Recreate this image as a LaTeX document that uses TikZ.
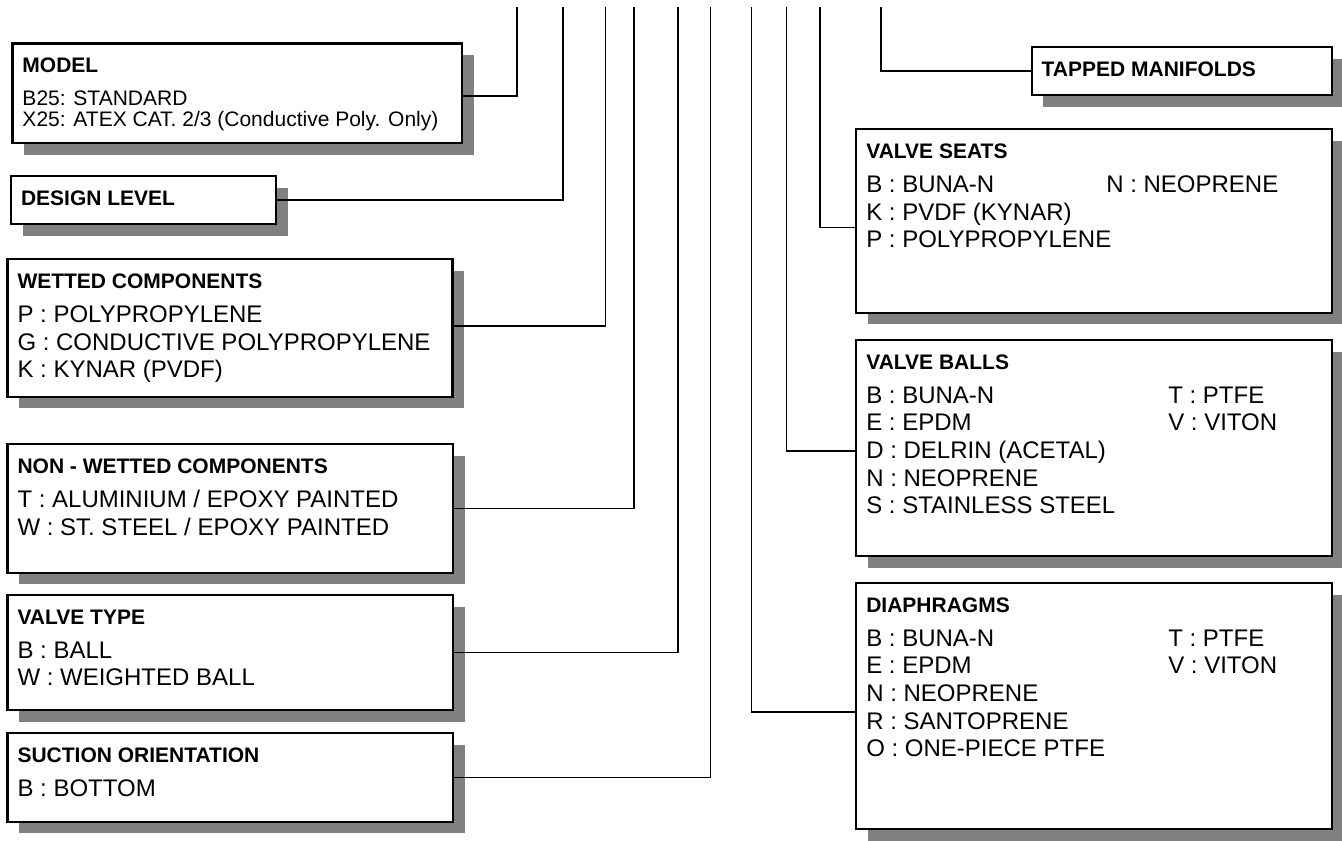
\documentclass[tikz,border=0pt]{standalone}
\usepackage{fontspec}
\setmainfont{Liberation Sans}
\usetikzlibrary{shadows}

\definecolor{shadowgray}{HTML}{808080}

\newcommand{\entryfont}{\fontsize{24}{27.7}\selectfont}
\newcommand{\boxtitle}[1]{\rule{0pt}{29pt}{\bfseries\fontsize{21}{27.7}\selectfont #1}}
\newcommand{\twocol}[3]{\makebox[#1][l]{#2}#3}

\begin{document}
\begin{tikzpicture}[
    x=1pt, y=-1pt,
    box/.style={draw, line width=2.1pt, fill=white, anchor=north west,
        outer sep=0pt, inner xsep=10pt, inner ysep=0pt,
        drop shadow={shadow xshift=11.5pt, shadow yshift=-11.5pt,
            fill=shadowgray, opacity=1}},
    link/.style={line width=1.6pt}
]
\useasboundingbox (0,0) rectangle (1342,841);

% Left column
\node[box] (model) at (12.5,43.5) {\parbox[t][99.8pt][t]{429.5pt}{%
    \fontsize{21}{21}\selectfont\boxtitle{MODEL}\\[12.3pt]
    B25: STANDARD\\
    X25: ATEX CAT. 2/3 (Conductive Poly. Only)}};
\node[box] (design) at (11,176) {\parbox[t][48pt][t]{245pt}{%
    \entryfont\boxtitle{DESIGN LEVEL}}};
\node[box] (wetted) at (7.5,259.3) {\parbox[t][137.4pt][t]{425pt}{%
    \entryfont\boxtitle{WETTED COMPONENTS}\\[6.3pt]
    P : POLYPROPYLENE\\
    G : CONDUCTIVE POLYPROPYLENE\\
    K : KYNAR (PVDF)}};
\node[box] (nonwetted) at (7.5,444.3) {\parbox[t][128.4pt][t]{425.5pt}{%
    \entryfont\boxtitle{NON - WETTED COMPONENTS}\\[6.3pt]
    T : ALUMINIUM / EPOXY PAINTED\\
    W : ST. STEEL / EPOXY PAINTED}};
\node[box] (valvetype) at (7.5,595) {\parbox[t][115pt][t]{425.5pt}{%
    \entryfont\boxtitle{VALVE TYPE}\\[6.3pt]
    B : BALL\\
    W : WEIGHTED BALL}};
\node[box] (suction) at (7.5,733.3) {\parbox[t][88.4pt][t]{425.5pt}{%
    \entryfont\boxtitle{SUCTION ORIENTATION}\\[6.3pt]
    B : BOTTOM}};

% Right column
\node[box] (tapped) at (1031.7,47) {\parbox[t][48pt][t]{280.3pt}{%
    \entryfont\boxtitle{TAPPED MANIFOLDS}}};
\node[box] (seats) at (856.3,129.3) {\parbox[t][183.4pt][t]{455.7pt}{%
    \entryfont\boxtitle{VALVE SEATS}\\[6.3pt]
    \twocol{240pt}{B : BUNA-N}{N : NEOPRENE}\\
    K : PVDF (KYNAR)\\
    P : POLYPROPYLENE}};
\node[box] (balls) at (856.3,340) {\parbox[t][216pt][t]{455.7pt}{%
    \entryfont\boxtitle{VALVE BALLS}\\[6.3pt]
    \twocol{302pt}{B : BUNA-N}{T : PTFE}\\
    \twocol{302pt}{E : EPDM}{V : VITON}\\
    D : DELRIN (ACETAL)\\
    N : NEOPRENE\\
    S : STAINLESS STEEL}};
\node[box] (diaphragms) at (856.3,583) {\parbox[t][246pt][t]{455.7pt}{%
    \entryfont\boxtitle{DIAPHRAGMS}\\[6.3pt]
    \twocol{302pt}{B : BUNA-N}{T : PTFE}\\
    \twocol{302pt}{E : EPDM}{V : VITON}\\
    N : NEOPRENE\\
    R : SANTOPRENE\\
    O : ONE-PIECE PTFE}};

% Code positions along the top
\coordinate (modelTop) at (517,7);
\coordinate (designTop) at (563,7);
\coordinate (wettedTop) at (605.5,7);
\coordinate (nonwettedTop) at (634,7);
\coordinate (valvetypeTop) at (678,7);
\coordinate (suctionTop) at (710.5,7);
\coordinate (diaphragmsTop) at (751.5,7);
\coordinate (ballsTop) at (786.5,7);
\coordinate (seatsTop) at (820,7);
\coordinate (tappedTop) at (881,7);

% Leaders
\draw[link] ([yshift=-2.3pt]model.east) -| (modelTop);
\draw[link] (design.east) -| (designTop);
\draw[link] ([yshift=2.3pt]wetted.east) -| (wettedTop);
\draw[link] (nonwetted.east) -| (nonwettedTop);
\draw[link] (valvetype.east) -| (valvetypeTop);
\draw[link] (suction.east) -| (suctionTop);
\draw[link] (tapped.west) -| (tappedTop);
\draw[link] ([yshift=-6.3pt]seats.west) -| (seatsTop);
\draw[link] ([yshift=-3pt]balls.west) -| (ballsTop);
\draw[link] ([yshift=-6pt]diaphragms.west) -| (diaphragmsTop);

\end{tikzpicture}
\end{document}
